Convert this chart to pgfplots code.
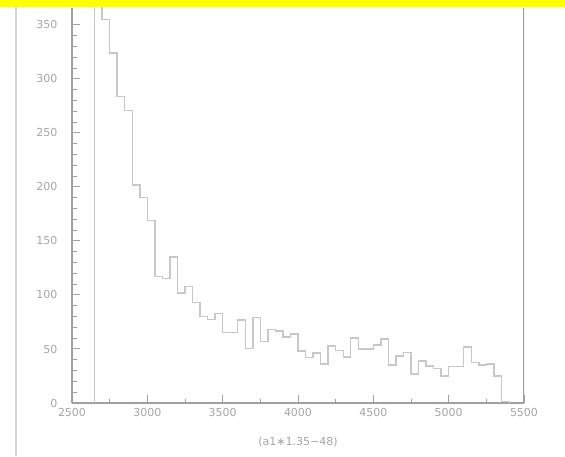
\documentclass[border=0pt]{standalone}
\usepackage{pgfplots}
\pgfplotsset{compat=1.18}
\usepackage{fontspec}
\setmainfont{DejaVu Sans}
\definecolor{axisgray}{RGB}{160,160,160}
\definecolor{histgray}{RGB}{200,200,200}
\definecolor{textgray}{RGB}{165,165,165}
\definecolor{bandyellow}{RGB}{255,255,0}
\definecolor{edgegray}{RGB}{215,215,215}
\pgfplotstableread{
x y
2650 0
2650 420
2700 355
2750 324
2800 284
2850 271
2900 202
2950 190
3000 169
3050 117
3100 115
3150 135
3200 102
3250 108
3300 93
3350 80
3400 77.5
3450 83
3500 65
3550 65
3600 77
3650 50.6
3700 79.3
3750 57
3800 68
3850 66.5
3900 61
3950 64
4000 48
4050 42.3
4100 46.3
4150 36.1
4200 52.8
4250 48.5
4300 42.5
4350 60
4400 50
4450 50
4500 53.7
4550 59.3
4600 35.2
4650 43.5
4700 47
4750 27
4800 39
4850 34.3
4900 32
4950 25
5000 33.6
5050 33.6
5100 52
5150 37.4
5200 35.2
5250 36
5300 25
5350 1.2
5400 0
}\histdata
\begin{document}
\begin{tikzpicture}[x=1pt,y=1pt]
\path[use as bounding box] (0,0) rectangle (565,456);
\fill[bandyellow] (0,449) rectangle (565,456);
\draw[edgegray, line width=2pt] (16,0) -- (16,449);
\begin{axis}[
  scale only axis, width=452pt, height=395pt,
  anchor=south west, at={(72pt,53pt)},
  xmin=2500, xmax=5500, ymin=0, ymax=365.7,
  axis x line*=bottom, axis y line*=left,
  axis line style={axisgray, line width=1.2pt},
  xtick={2500,3000,...,5500},
  ytick={0,50,...,350},
  minor x tick num=1, minor y tick num=4,
  tick align=inside,
  major tick length=8pt, minor tick length=4.5pt,
  tick style={axisgray, line width=1pt},
  /pgf/number format/1000 sep={},
  /pgf/number format/assume math mode=true,
  ticklabel style={font=\fontsize{11}{13}\selectfont, text=textgray},
  yticklabel style={xshift=-11pt},
  xticklabel style={yshift=-2pt},
  xlabel={(a1∗1.35−48)},
  xlabel style={at={(rel axis cs:0.5,0)}, anchor=center, yshift=-38.7pt,
    font=\fontsize{11}{13}\selectfont, text=textgray},
  clip=true,
]
\addplot[const plot, histgray, line width=1.4pt, no marks] table[x=x,y=y] {\histdata};
\draw[axisgray, line width=1.2pt] (rel axis cs:1,0) -- (rel axis cs:1,1);
\end{axis}
\end{tikzpicture}
\end{document}
